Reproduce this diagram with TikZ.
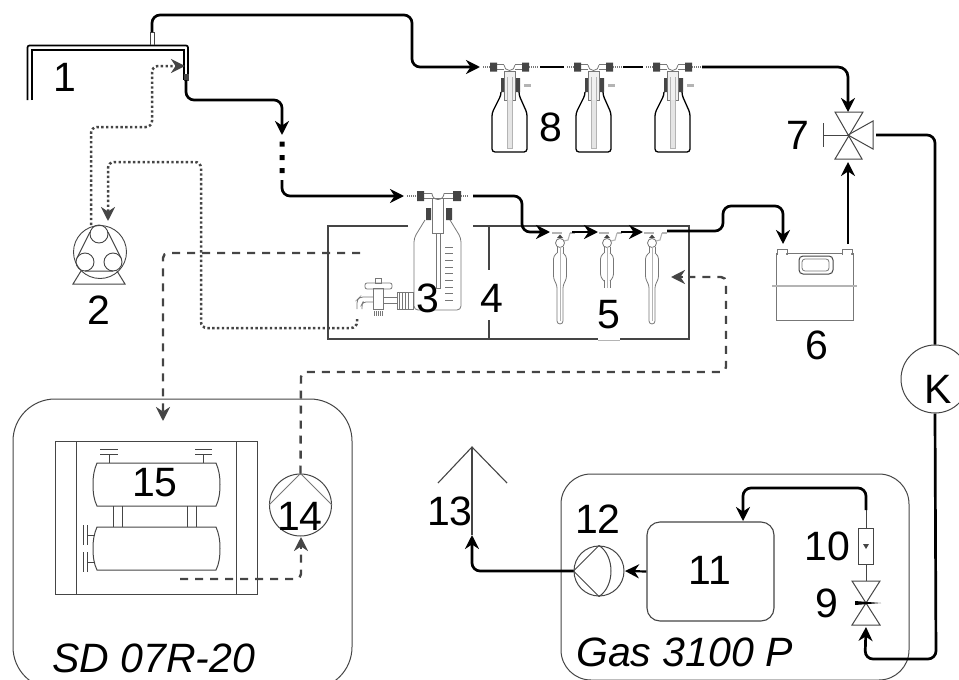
\documentclass[tikz,border=0pt]{standalone}
\usepackage{fontspec}
\setmainfont{Liberation Sans}
\usetikzlibrary{arrows.meta}
\definecolor{dk}{HTML}{454545}
\definecolor{md}{HTML}{777777}
\definecolor{lt}{HTML}{B4B4B4}
\tikzset{
 lbl/.style={inner sep=0pt,font=\fontsize{41}{41}\selectfont},
 ital/.style={lbl,font=\fontsize{41}{41}\selectfont\itshape,anchor=west},
 tip/.style={-{Stealth[length=14pt,width=14pt,inset=4.5pt]}},
 pipe/.style={black,line width=2.7pt,rounded corners=8pt},
 pipearrow/.style={pipe,tip},
 dots/.style={dk,line width=2.5pt,dash pattern=on 2.4pt off 2.4pt,rounded corners=6pt},
 dasharrow/.style={dk,line width=2.4pt,dash pattern=on 8pt off 7pt,rounded corners=5pt},
 sym/.style={dk,line width=1pt},
 glass/.style={md,line width=.8pt},
 frame/.style={dk,line width=2.4pt},
 pics/gasbottle/.style={code={
   \draw[black,line width=1.3pt,rounded corners=3pt] (-8,26)--(-8,28)--(-17,46)--(-17,85)--(18,85)--(18,46)--(10,28)--(10,26);
   \fill[dk] (-8,11) rectangle (-4,25) (6,11) rectangle (11,25);
   \fill[black!6] (-5,4) rectangle (6,33);
   \draw[glass] (-5,4) rectangle (6,33);
   \fill[black!10] (-2,33) rectangle (3,81);
   \draw[lt,line width=.7pt] (-2,10) -- (-2,81) -- (3,81) -- (3,10);
   \draw[glass] (-5,-2) arc[start angle=180,end angle=0,radius=5.5];
   \draw[glass] (-19,-2.5) -- (-5,-2.5) (-19,2.5) -- (-5,2.5) (6,-2.5) -- (19,-2.5) (6,2.5) -- (19,2.5);
   \fill[dk] (-19,-4.5) rectangle (-12,4.5) (13,-4.5) rectangle (20,4.5);
   \draw[md,line width=2pt,dash pattern=on 1pt off 1pt] (-26,0)--(-19,0) (20,0)--(29,0);
   \fill[lt] (15,17) rectangle (22,19.5);
 }},
 pics/impingerhead/.style={code={
   \draw[lt,line width=1.1pt] (-8,0)--(2,0) (10,0)--(15,0);
   \draw[lt,line width=1.1pt] (10,0)--(8,7)--(4,8);
   \fill[dk] (-3,5)--(0,1.5)--(3,5)--cycle;
   \draw[glass] (0,10) circle[radius=4.5];
   \draw[glass] (-3,14)--(-3,20) (3,14)--(3,20);
 }},
 pics/impinger/.style={code={
   \pic {impingerhead};
   \draw[glass,rounded corners=3pt] (-3,20)--(-6.5,23)--(-6.5,46)--(-3,52)--(-3,91)--(3,91)--(3,52)--(6.5,46)--(6.5,23)--(3,20);
   \draw[lt,line width=.7pt] (0,14)--(0,88);
 }},
 pics/impingershort/.style={code={
   \pic {impingerhead};
   \draw[glass,rounded corners=3pt] (-3,20)--(-6.5,23)--(-6.5,44)--(-3,48);
   \draw[glass,rounded corners=3pt] (3,20)--(6.5,23)--(6.5,44)--(3,48);
   \draw[glass] (-3,47)--(-3,55) (3,47)--(3,55);
   \draw[lt,line width=.7pt] (0,14)--(0,55);
 }},
 pics/flask/.style={code={
   \draw[glass,rounded corners=4pt] (-13,24)--(-24,42)--(-24,114)--(23,114)--(23,42)--(12,24);
   \fill[dk] (-12,12) rectangle (-7,24) (8,12) rectangle (14,24);
   \draw[glass] (-6,2) rectangle (5,37);
   \draw[glass] (-2,37)--(-2,92)--(2,92)--(2,37);
   \draw[glass] (-6,-2.5)--(-20,-2.5) (-6,2.5)--(-20,2.5) (6,-2.5)--(20,-2.5) (6,2.5)--(20,2.5);
   \draw[glass] (-6,-2.5) arc[start angle=180,end angle=0,radius=6];
   \fill[dk] (-21,-5) rectangle (-14,5) (15,-5) rectangle (23,5);
   \draw[md,line width=2pt,dash pattern=on 1pt off 1pt] (-31,0)--(-21,0) (23,0)--(31,0);
   \foreach \y in {51,57.5,64,71,77.5,84,91,97.5,104} \draw[md,line width=.8pt] (7,\y)--(15,\y);
   % tap
   \draw[glass] (-41,96) rectangle (-25,113);
   \draw[md,line width=1pt] (-39,96)--(-39,113) (-36,96)--(-36,113) (-33,96)--(-33,113) (-30,96)--(-30,113);
   \draw[glass] (-55,101)--(-41,101) (-55,107)--(-41,107);
   \draw[glass] (-65,92) rectangle (-55,113);
   \draw[glass,rounded corners=2pt] (-73,87) rectangle (-46,93);
   \draw[glass] (-63,82) rectangle (-57,87);
   \draw[glass,rounded corners=3pt] (-65,101)--(-78,101)--(-81,104)--(-81,113) (-65,106)--(-75,106)--(-76,108)--(-76,113);
   \draw[md,line width=5pt,dash pattern=on 1pt off 1pt] (-64,117)--(-55,117);
 }},
}
\begin{document}
\begin{tikzpicture}[x=1pt,y=-1pt,line cap=butt]
\useasboundingbox (0,0) rectangle (959,680);
\begin{scope}
\clip (0,0) rectangle (959,680);
% instrument frames
\node[draw=dk,line width=1pt,rounded corners=42pt,minimum width=339pt,minimum height=290pt,inner sep=0pt] (sdbox) at (182.5,544) {};
\node[draw=dk,line width=1pt,rounded corners=30pt,minimum width=348pt,minimum height=206pt,inner sep=0pt] (gasbox) at (735,577) {};
\node[draw=dk,line width=1.1pt,rounded corners=13pt,minimum width=127pt,minimum height=99pt,inner sep=0pt] (box11) at (710.5,571.5) {};

% SD unit symbol
\node[draw=dk,line width=1pt,minimum width=202pt,minimum height=153pt,inner sep=0pt] (sdframe) at (156,517.5) {};
\draw[sym] (76,441)--(76,594) (236,441)--(236,594);
\draw[sym] (97,463)--(216,463) .. controls (219,470) and (220,476) .. (220,484.5) .. controls (220,493) and (219,500) .. (216,506)--(97,506) .. controls (94,500) and (93,493) .. (93,484.5) .. controls (93,476) and (94,470) .. (97,463) -- cycle;
\draw[sym] (97,527)--(216,527) .. controls (219,534) and (220,540) .. (220,548.5) .. controls (220,557) and (219,564) .. (216,570)--(97,570) .. controls (94,564) and (93,557) .. (93,548.5) .. controls (93,540) and (94,534) .. (97,527) -- cycle;
\draw[sym] (113,506)--(113,527) (122,506)--(122,527) (187,506)--(187,527) (196,506)--(196,527);
\draw[sym] (109,463)--(109,454) (100,454)--(118,454) (100,449)--(118,449);
\draw[sym] (203,463)--(203,454) (195,454)--(212,454) (195,449)--(212,449);
\draw[sym] (95,535)--(87,535) (87,525)--(87,545) (83,525)--(83,545);
\draw[sym] (95,562)--(87,562) (87,552)--(87,572) (83,552)--(83,572);

% pump 14
\node[circle,draw=dk,line width=1pt,minimum size=62pt,inner sep=0pt] (p14) at (300.5,505) {};
\draw[md,line width=1pt] (p14.west)--(p14.north)--(p14.east);

% pump 12
\node[circle,draw=dk,line width=1pt,minimum size=50pt,inner sep=0pt] (p12) at (599,571) {};
\draw[sym] (p12.north) -- (p12.west) -- (p12.south);
\draw[sym] (p12.north) .. controls (615,556) and (615,586) .. (p12.south);

% roof 13
\coordinate (stack) at (472,447);
\draw[sym,line width=1.1pt] (438,483)--(stack)--(507,483);
\coordinate (stackfoot) at (472,535);
\draw[sym,line width=1.1pt] (stack)--(stackfoot);

% rotameter 10, valve 9
\node[draw=dk,line width=1pt,minimum width=15pt,minimum height=36pt,inner sep=0pt] (rot) at (866,546) {};
\fill[dk] (863,544)--(869,544)--(866,549)--cycle;
\coordinate (v9top) at (866,581);
\coordinate (v9bot) at (866,627);
\coordinate (rottop) at (866,510);
\draw[sym] (rot.south)--(v9top);
\draw[sym] (rot.north)--(rottop);
\draw[sym] (852,581)--(880,581)--(852,625)--(880,625)--cycle;
\fill[black] (855,601)--(881,603)--(855,605)--cycle;

% valve 7
\coordinate (v7) at (848,135);
\coordinate (v7top) at (848,112);
\coordinate (v7bot) at (848,162);
\coordinate (v7right) at (876,135);
\draw[sym] (835,112)--(863,112)--(835,159)--(862,159)--cycle;
\draw[sym] (v7)--(873,121)--(873,149)--cycle;
\draw[sym] (v7)--(823,135) (823,123)--(823,147);

% gas meter 6
\node[draw=md,line width=.8pt,minimum width=77pt,minimum height=67pt,inner sep=0pt] (meter) at (814.5,286.5) {};
\draw[lt,line width=1.8pt] (772,286)--(857,286);
\draw[glass] (777,249) rectangle (787,254) (842,249) rectangle (852,254);
\fill[white] (778,252) rectangle (786,255) (843,252) rectangle (851,255);
\coordinate (meterin) at (783,244);
\coordinate (meterout) at (848,244);
\draw[dk,line width=1pt,rounded corners=4pt] (799,256) rectangle (833,274);
\draw[md,line width=.8pt,rounded corners=3pt] (802,259) rectangle (829,271);

% probe 1
\draw[black,line width=1.7pt,rounded corners=2pt] (27.5,100)--(27.5,45.5)--(188,45.5)--(188,80);
\draw[black,line width=1.7pt] (32,100)--(32,50)--(184,50)--(184,80);
\draw[dk,line width=1pt] (150,45)--(150,32) (154,45)--(154,32)--(150,32);
\fill[dk] (183.5,74) rectangle (188.5,81);
\coordinate (probeA) at (152,32);
\coordinate (probeB) at (186,80);
\coordinate (probeIn) at (185,66);

% pump 2
\node[circle,draw=dk,line width=.9pt,minimum size=53pt,inner sep=0pt] (p2) at (100,252) {};
\node[circle,draw=dk,line width=.9pt,minimum size=18pt,inner sep=0pt] (p2a) at (99,234) {};
\node[circle,draw=dk,line width=.9pt,minimum size=18pt,inner sep=0pt] (p2b) at (85,262) {};
\node[circle,draw=dk,line width=.9pt,minimum size=18pt,inner sep=0pt] (p2c) at (113,262) {};
\draw[sym] (90,232)--(77,258) (108,232)--(121,258) (85,271)--(113,271);
\draw[sym] (81,271)--(73,284)--(125,284)--(117,271);

% box 4
\draw[frame] (408,226)--(328,226)--(328,339)--(689,339)--(689,226)--(473,226);
\draw[frame] (489,226)--(489,270) (489,320)--(489,339);
\draw[white,line width=3pt] (598,339)--(620,339);
\draw[lt,line width=1pt] (598,340)--(620,340);

% glassware
\pic (fl) at (438,196) {flask};
\pic (b1) at (509,67) {gasbottle};
\pic (b2) at (593,67) {gasbottle};
\pic (b3) at (672,67) {gasbottle};
\pic (i1) at (560,233) {impinger};
\pic (i2) at (607,233) {impingershort};
\pic (i3) at (652,233) {impinger};
\coordinate (flin) at (404,196);
\coordinate (flout) at (473,196);
\coordinate (tap) at (357,319);

% connectors
\coordinate (gapa) at (282,135);
\coordinate (gapb) at (282,180);
\draw[pipearrow] (probeA)--(152,15)--(412,15)--(412,67)--(480,67);
\draw[pipearrow] (probeB)--(186,100)--(282,100)--(gapa);
\fill[black] (279.5,141.5) rectangle (284.5,146.5) (279.5,155) rectangle (284.5,160) (279.5,168) rectangle (284.5,173);
\draw[pipearrow] (gapb)--(282,196)--(flin);
\draw[pipe] (540,67)--(564,67);
\draw[pipe] (623,67)--(643,67);
\draw[pipearrow,rounded corners=10pt] (702,67)--(848,67)--(v7top);
\draw[pipearrow] (flout)--(522,196)--(522,232)--(550,232);
\draw[pipearrow] (572,232)--(598,232);
\draw[pipearrow] (621,232)--(643,232);
\draw[pipearrow] (667,231)--(723,231)--(723,206)--(783,206)--(meterin);
\draw[pipearrow] (meterout)--(v7bot);
\node[circle,draw=dk,line width=1pt,minimum size=68pt,inner sep=0pt] (kk) at (935,379) {};
\draw[pipe] (v7right)--(935,135)--(kk.north);
\draw[pipearrow] (kk.south)--(936,659)--(865,659)--(v9bot);
\draw[pipearrow] (rottop)--(866,488)--(743,488)--(743,521);
\draw[pipearrow,line width=2.2pt] (box11.west)--(625,571);
\draw[pipearrow] (p12.west)--(472,571)--(stackfoot);
\draw[dots,tip] (91,225)--(91,127)--(152,127)--(152,66)--(probeIn);
\draw[dots,tip] (tap)--(357,328)--(201,328)--(201,162)--(108,162)--(108,221);
\draw[dasharrow,tip] (360,253)--(163,253)--(163,421);
\coordinate (backend) at (688,277);
\draw[dasharrow] (p14.north)--(301,372)--(726,372)--(726,277)--(backend);
\draw[dk,line width=2.4pt,tip] (683,277)--(671,277);
\draw[dasharrow] (180,579)--(301,579)--(301,549);
\draw[dk,line width=2.2pt,tip] (301,549)--(301,537);

% labels
\node[lbl] at (65,77) {1};
\node[lbl] at (99,310) {2};
\node[lbl] (t3) at (428,298) {3};
\node[lbl] at (492,298) {4};
\node[lbl] at (609,315) {5};
\node[lbl] at (817,345) {6};
\node[lbl] at (798,135) {7};
\node[lbl] at (551,127) {8};
\node[lbl] at (827,603) {9};
\node[lbl] at (827,546) {10};
\node[lbl] at (710,570) {11};
\node[lbl] at (598,519) {12};
\node[lbl] at (450,511) {13};
\node[lbl] at (300,516) {14};
\node[lbl] at (155,483) {15};
\node[lbl] at (938,389) {K};
\node[ital] at (52,658) {SD 07R-20};
\node[ital] at (576,652) {Gas 3100 P};
\end{scope}
\end{tikzpicture}
\end{document}
